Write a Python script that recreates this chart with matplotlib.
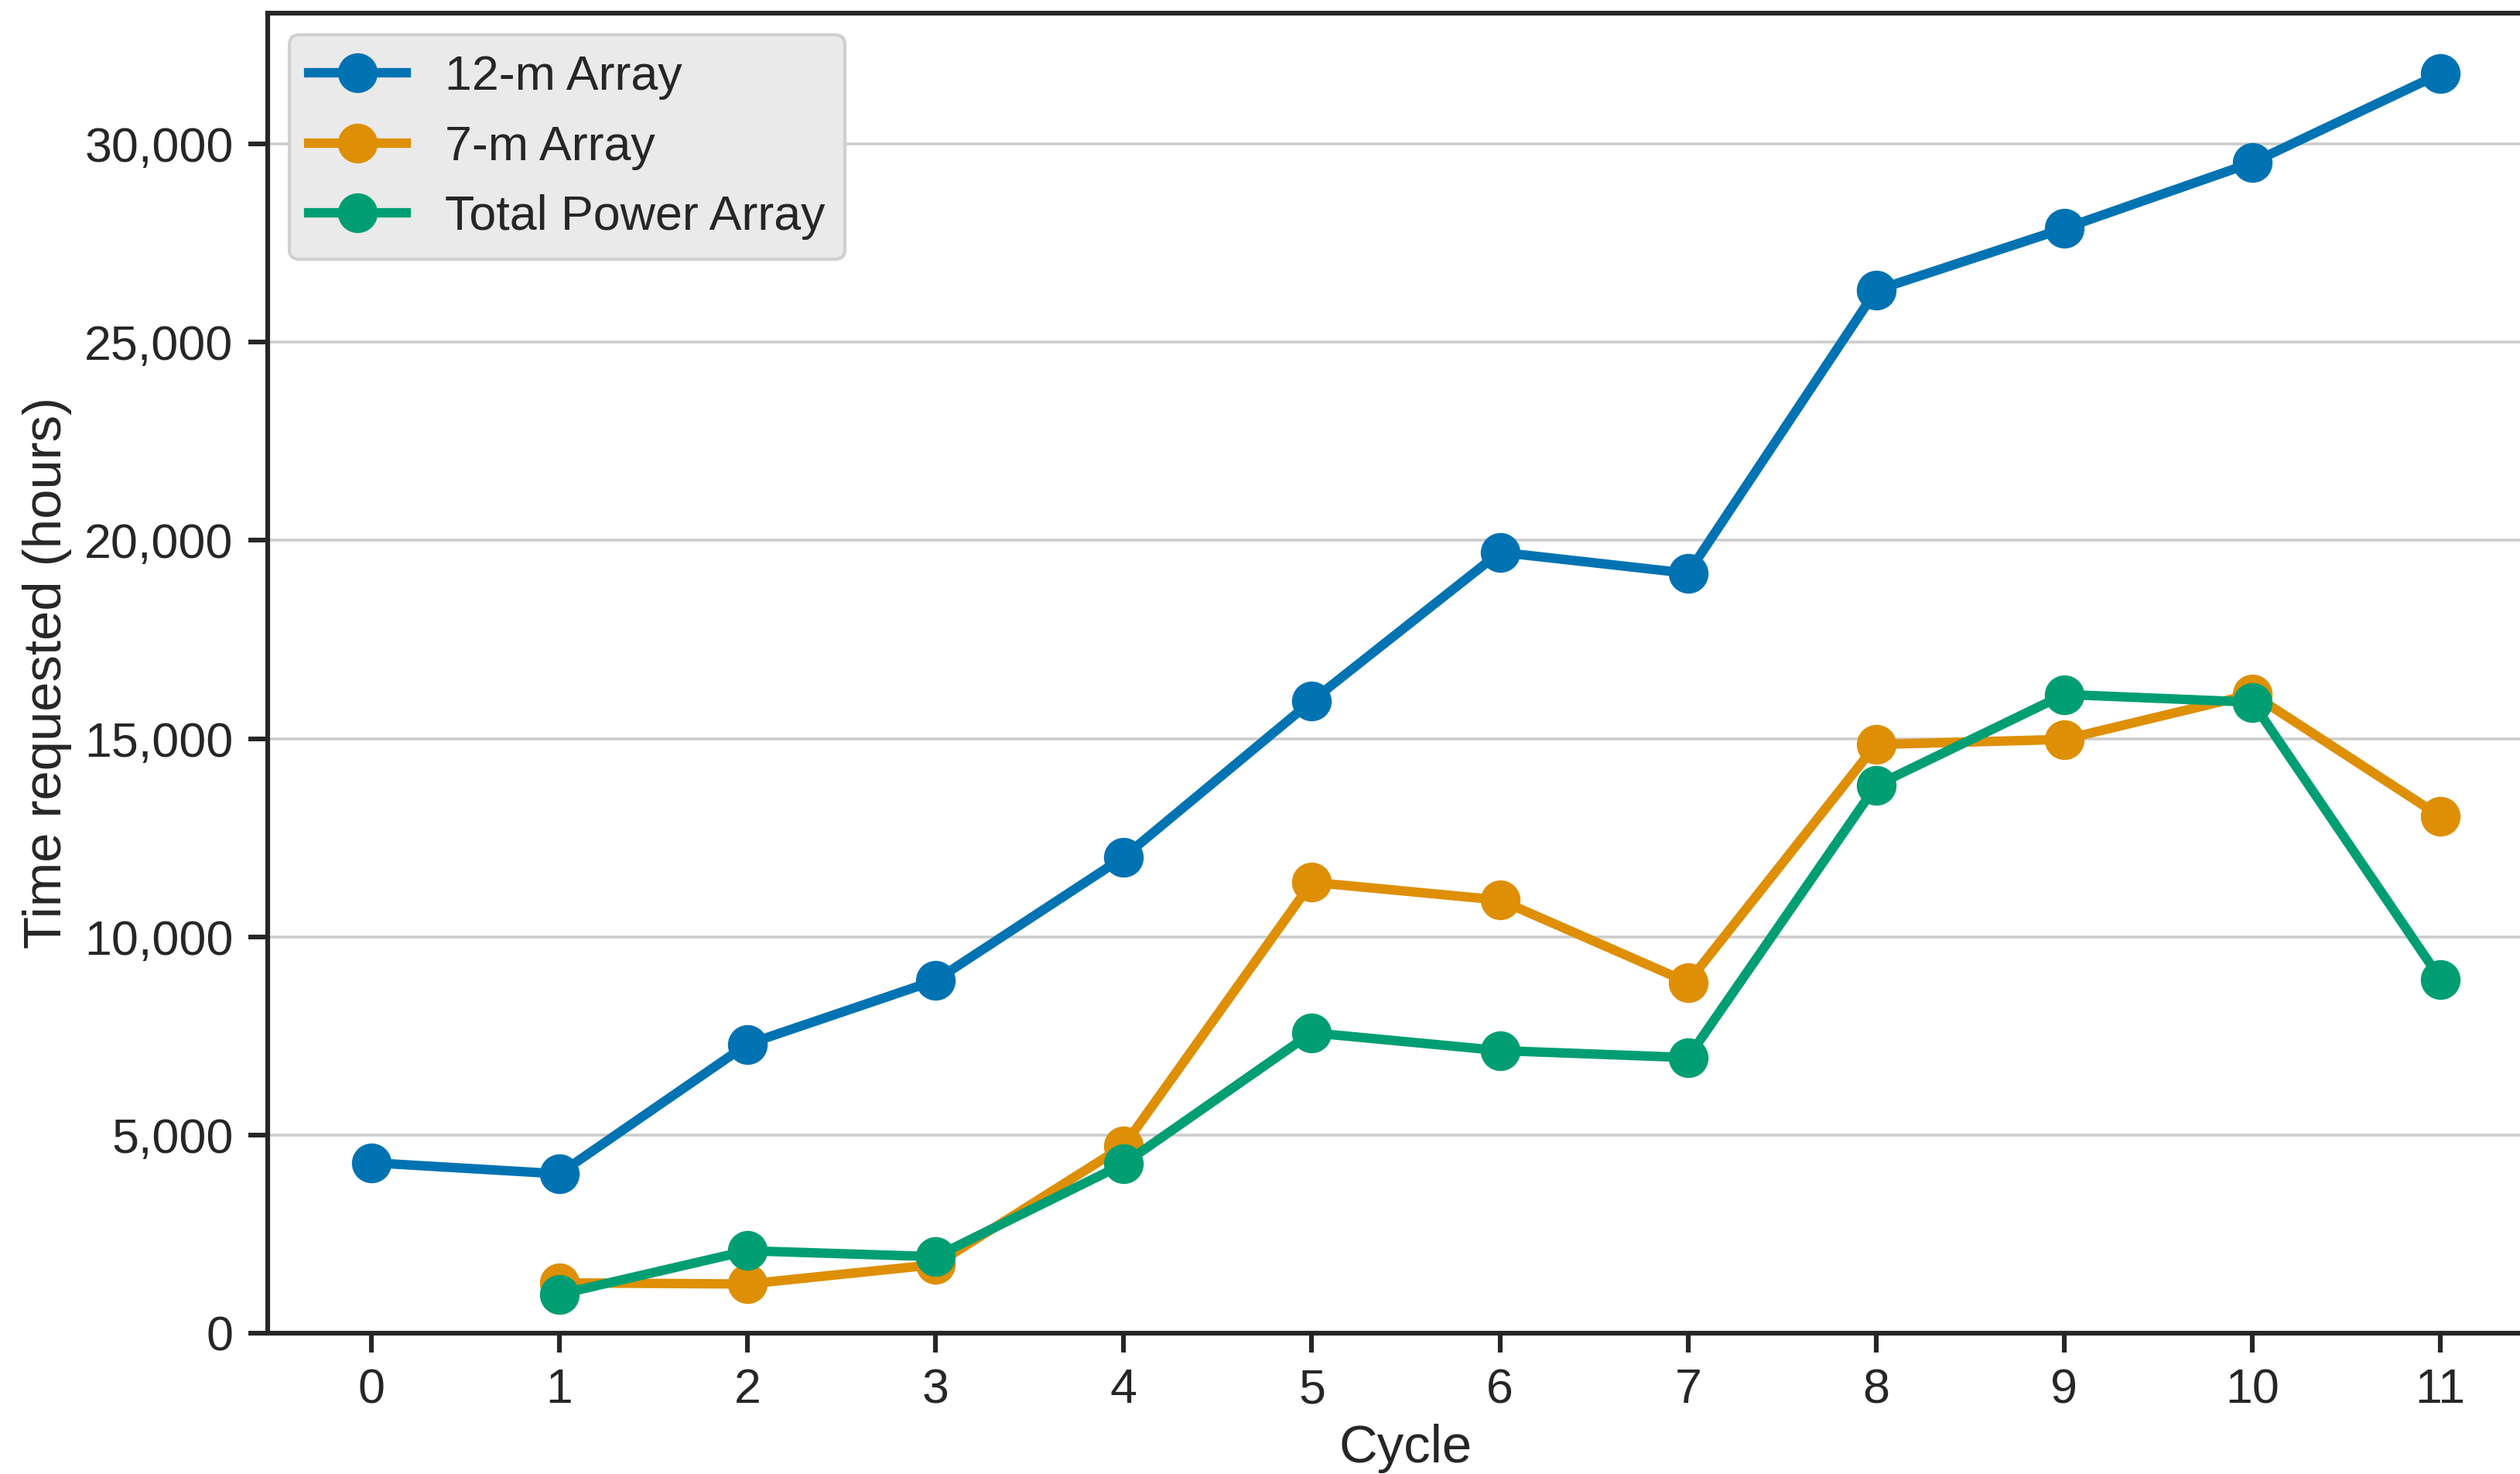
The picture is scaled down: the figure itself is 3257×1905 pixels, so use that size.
import matplotlib
matplotlib.use("Agg")
import matplotlib.pyplot as plt
from matplotlib.ticker import FuncFormatter

cycles = [0, 1, 2, 3, 4, 5, 6, 7, 8, 9, 10, 11]
array_12m = [4300, 4020, 7290, 8900, 12010, 15950, 19700, 19170, 26310, 27870, 29530, 31775]
cycles_7m = [1, 2, 3, 4, 5, 6, 7, 8, 9, 10, 11]
array_7m = [1270, 1240, 1730, 4720, 11375, 10926, 8850, 14850, 14980, 16120, 13034]
cycles_tp = [1, 2, 3, 4, 5, 6, 7, 8, 9, 10, 11]
array_tp = [980, 2080, 1930, 4270, 7578, 7129, 6953, 13818, 16113, 15918, 8930]
labels = ["12-m Array", "7-m Array", "Total Power Array"]
colors = ["#0173b2", "#de8f05", "#029e73"]

plt.rcParams['font.family'] = ['Liberation Sans', 'DejaVu Sans']
plt.rcParams['font.size'] = 22.6

fig = plt.figure(figsize=(3257/200, 1905/200), dpi=200)
ax = fig.add_axes([346/3257, 1-1723/1905, (3288-346)/3257, (1723-17)/1905])

for xs, ys, lab, c in zip([cycles, cycles_7m, cycles_tp], [array_12m, array_7m, array_tp], labels, colors):
    ax.plot(xs, ys, '-o', color=c, lw=4.4, ms=17.5, label=lab)

ax.set_xlim(-0.55, 11.55)
ax.set_ylim(0, 33300)
ax.set_xticks(cycles)
ax.set_yticks([0, 5000, 10000, 15000, 20000, 25000, 30000])
ax.yaxis.set_major_formatter(FuncFormatter(lambda v, p: f"{int(v):,}"))
ax.grid(axis='y', color='#cccccc', lw=1.3)
ax.set_axisbelow(True)
for s in ax.spines.values():
    s.set_linewidth(2.2)
    s.set_color('#262626')
ax.tick_params(axis='both', length=9, width=2.2, color='#262626', labelcolor='#262626', labelsize=22.6, pad=7)
ax.set_xlabel("Cycle", fontsize=24.8, color='#262626', labelpad=5)
ax.set_ylabel("Time requested (hours)", fontsize=24.8, color='#262626', labelpad=6)

leg = ax.legend(loc='upper left', fontsize=22.6, frameon=True, fancybox=True,
                facecolor='#eaeaea', edgecolor='#d0d0d0', framealpha=1.0,
                borderaxespad=0.45, handlelength=2.0)
leg.get_frame().set_linewidth(1.5)
for t in leg.get_texts():
    t.set_color('#262626')

fig.savefig("out.png", dpi=200)
